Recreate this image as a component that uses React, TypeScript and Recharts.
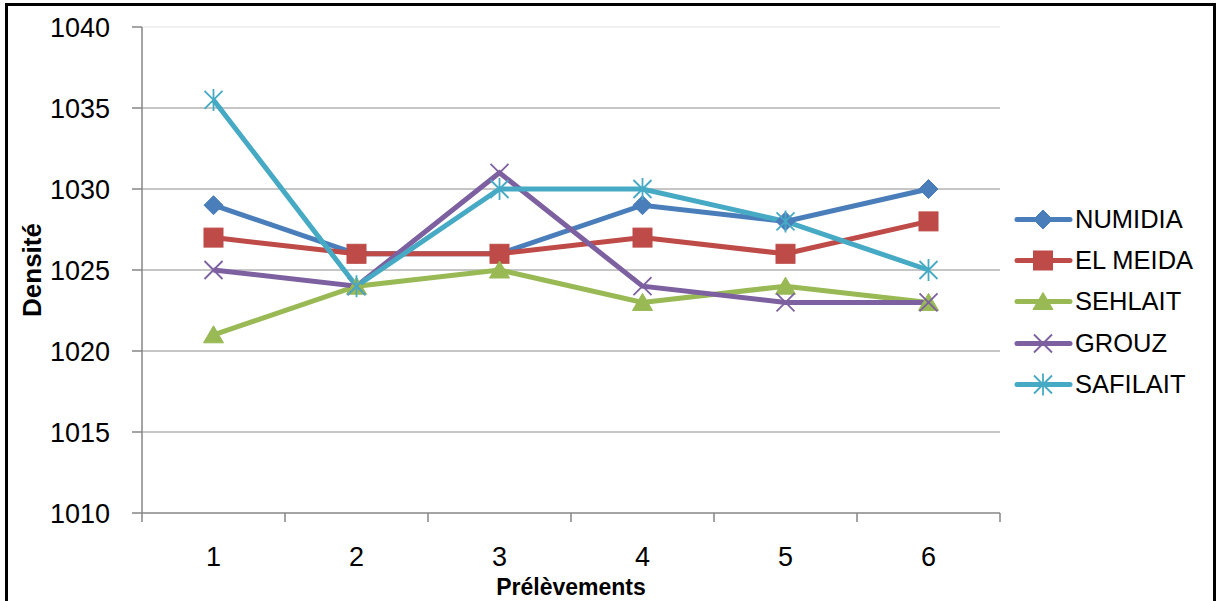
import React from "react";
import {
  LineChart,
  Line,
  XAxis,
  YAxis,
  CartesianGrid,
  ReferenceLine,
} from "recharts";

const FONT = '"Liberation Sans", Arial, sans-serif';

// Prélèvements (sampling rounds) and measured density per dairy
const prelevements = [1, 2, 3, 4, 5, 6];
const numidia = [1029, 1026, 1026, 1029, 1028, 1030];
const elMeida = [1027, 1026, 1026, 1027, 1026, 1028];
const sehlait = [1021, 1024, 1025, 1023, 1024, 1023];
const grouz = [1025, 1024, 1031, 1024, 1023, 1023];
const safilait = [1035.5, 1024, 1030, 1030, 1028, 1025];

const yTicks = [1010, 1015, 1020, 1025, 1030, 1035, 1040];
const yGrid = [1015, 1020, 1025, 1030, 1035];
// category boundaries get the small tick marks, centres get the labels
const xBounds = [0.5, 1.5, 2.5, 3.5, 4.5, 5.5, 6.5];
const xTicks = [...xBounds, ...prelevements].sort((a, b) => a - b);

type Shape = "diamond" | "square" | "triangle" | "cross" | "star";

const series: { key: string; name: string; color: string; shape: Shape }[] = [
  { key: "numidia", name: "NUMIDIA", color: "#4A7EBB", shape: "diamond" },
  { key: "elMeida", name: "EL MEIDA", color: "#BE4B48", shape: "square" },
  { key: "sehlait", name: "SEHLAIT", color: "#98B954", shape: "triangle" },
  { key: "grouz", name: "GROUZ", color: "#7D60A0", shape: "cross" },
  { key: "safilait", name: "SAFILAIT", color: "#46AAC5", shape: "star" },
];

const data = prelevements.map((p, i) => ({
  p,
  numidia: numidia[i],
  elMeida: elMeida[i],
  sehlait: sehlait[i],
  grouz: grouz[i],
  safilait: safilait[i],
}));

function Marker({
  shape,
  cx,
  cy,
  color,
}: {
  shape: Shape;
  cx: number;
  cy: number;
  color: string;
}) {
  switch (shape) {
    case "diamond":
      return (
        <path
          d={`M${cx},${cy - 9.5} L${cx + 9.5},${cy} L${cx},${cy + 9.5} L${cx - 9.5},${cy} Z`}
          fill={color}
          stroke={color}
        />
      );
    case "square":
      return (
        <rect x={cx - 9.5} y={cy - 9.5} width={19} height={19} fill={color} stroke={color} />
      );
    case "triangle":
      return (
        <path
          d={`M${cx},${cy - 9} L${cx + 10},${cy + 8} L${cx - 10},${cy + 8} Z`}
          fill={color}
          stroke={color}
        />
      );
    case "cross":
      return (
        <path
          d={`M${cx - 9},${cy - 9} L${cx + 9},${cy + 9} M${cx + 9},${cy - 9} L${cx - 9},${cy + 9}`}
          stroke={color}
          strokeWidth={1.8}
          fill="none"
        />
      );
    case "star":
      return (
        <path
          d={`M${cx - 9},${cy - 9} L${cx + 9},${cy + 9} M${cx + 9},${cy - 9} L${cx - 9},${cy + 9} M${cx},${cy - 11} L${cx},${cy + 11}`}
          stroke={color}
          strokeWidth={1.8}
          fill="none"
        />
      );
  }
}

function XTick(props: any) {
  const { x, y, payload } = props;
  if (Number.isInteger(payload.value)) {
    return (
      <text x={x} y={y + 53} textAnchor="middle" fontSize={27} fontFamily={FONT} fill="#000">
        {payload.value}
      </text>
    );
  }
  return <line x1={x} x2={x} y1={y} y2={y + 9} stroke="#868686" strokeWidth={1.5} />;
}

function LegendBox() {
  return (
    <div style={{ position: "absolute", left: 1013, top: 199 }}>
      {series.map((s) => (
        <div key={s.key} style={{ display: "flex", alignItems: "center", height: 41.2 }}>
          <svg width={60} height={41} style={{ display: "block" }}>
            <line x1={4} x2={57} y1={20.5} y2={20.5} stroke={s.color} strokeWidth={5} strokeLinecap="round" />
            <Marker shape={s.shape} cx={30} cy={20.5} color={s.color} />
          </svg>
          <span style={{ fontFamily: FONT, fontSize: 25.5, color: "#000", marginLeft: 2, whiteSpace: "nowrap" }}>
            {s.name}
          </span>
        </div>
      ))}
    </div>
  );
}

export default function App() {
  return (
    <div
      style={{
        position: "fixed",
        left: 0,
        top: 0,
        width: 1216,
        height: 601,
        background: "#fff",
        overflow: "hidden",
      }}
    >
      <div
        style={{
          position: "absolute",
          left: 5,
          top: 3,
          width: 1211,
          height: 700,
          border: "3px solid #000",
          boxSizing: "border-box",
        }}
      />
      <div style={{ position: "absolute", left: 0, top: 0 }}>
        <LineChart
          width={1216}
          height={601}
          data={data}
          margin={{ top: 27, right: 216, bottom: 0, left: 0 }}
        >
          <CartesianGrid
            vertical={false}
            horizontalValues={yGrid}
            stroke="#b3b3b3"
            strokeWidth={1.3}
          />
          <ReferenceLine y={1040} stroke="#ededed" strokeWidth={1.3} />
          <XAxis
            dataKey="p"
            type="number"
            domain={[0.5, 6.5]}
            ticks={xTicks}
            interval={0}
            height={88}
            tickSize={0}
            tickMargin={0}
            tickLine={false}
            tick={<XTick />}
            axisLine={{ stroke: "#868686", strokeWidth: 1.5 }}
            label={{
              value: "Prélèvements",
              position: "insideBottom",
              offset: 6,
              style: { fontFamily: FONT, fontSize: 23, fontWeight: 700, fill: "#000" },
            }}
          />
          <YAxis
            type="number"
            domain={[1010, 1040]}
            ticks={yTicks}
            interval={0}
            width={142}
            tickSize={10}
            tickMargin={22}
            tickLine={{ stroke: "#868686", strokeWidth: 1.5 }}
            axisLine={{ stroke: "#868686", strokeWidth: 1.5 }}
            tick={{ fontFamily: FONT, fontSize: 27, fill: "#000" }}
            label={{
              value: "Densité",
              angle: -90,
              position: "insideLeft",
              offset: 32,
              style: { fontFamily: FONT, fontSize: 26, fontWeight: 700, fill: "#000", textAnchor: "middle" },
            }}
          />
          {series.map((s) => (
            <Line
              key={s.key}
              dataKey={s.key}
              name={s.name}
              type="linear"
              stroke={s.color}
              strokeWidth={5}
              isAnimationActive={false}
              activeDot={false}
              dot={(props: any) => (
                <Marker
                  key={`${s.key}-${props.index}`}
                  shape={s.shape}
                  cx={props.cx}
                  cy={props.cy}
                  color={s.color}
                />
              )}
            />
          ))}
        </LineChart>
      </div>
      <LegendBox />
    </div>
  );
}
